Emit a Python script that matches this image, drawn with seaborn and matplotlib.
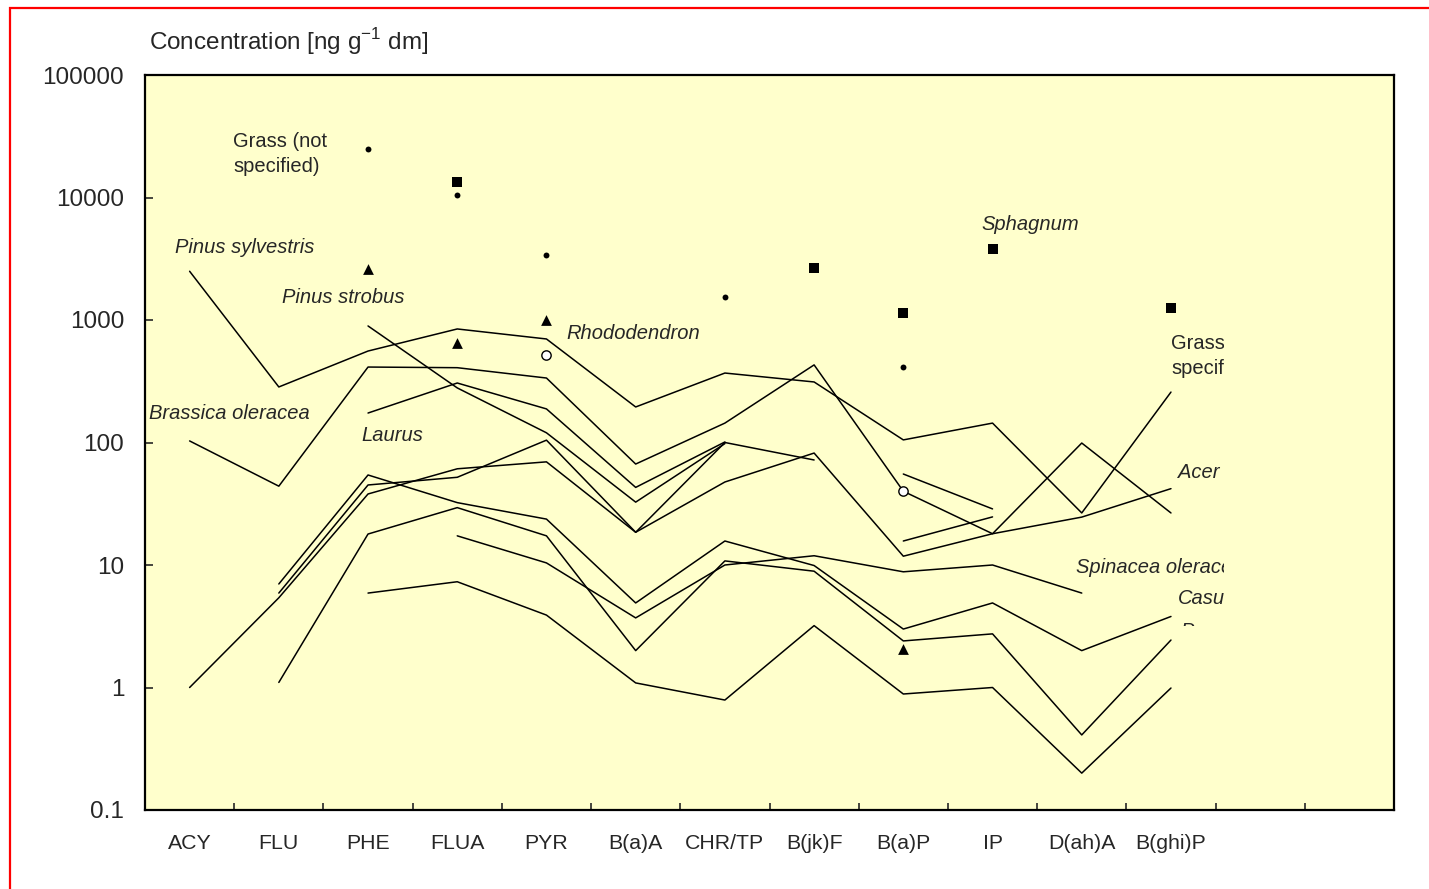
import numpy as np
import pandas as pd
import matplotlib
matplotlib.use('Agg')
import matplotlib.pyplot as plt
import seaborn as sns
from matplotlib.patches import Rectangle
from matplotlib.ticker import NullLocator
from matplotlib.transforms import Bbox, TransformedBbox

sns.set_style('white')
plt.rcParams['font.family'] = ['Liberation Sans', 'DejaVu Sans']
plt.rcParams['mathtext.fontset'] = 'custom'
plt.rcParams['mathtext.rm'] = 'Liberation Sans'

nan = np.nan

# compounds on the x axis (two empty slots follow on the right)
compounds = ['ACY', 'FLU', 'PHE', 'FLUA', 'PYR', 'B(a)A', 'CHR/TP',
             'B(jk)F', 'B(a)P', 'IP', 'D(ah)A', 'B(ghi)P']
n_slots = 14

# concentration profiles [ng g-1 dm]
pinus_sylvestris = [2500, 284, 558, 845, 700, 195, 369, 312, 105, 144, 26.6, 258]
brassica = [103, 44, 413, 408, 336, 66.7, 144, 430, 40, 18, 24.6, 42]
pinus_strobus = [nan, nan, 894, 279, 120, 32.6, 98, nan, nan, nan, nan, nan]
laurus = [nan, nan, 174, 306, 188, 43, 101, nan, nan, nan, nan, nan]
profile_5 = [nan, 5.9, 45, 52, 104.5, 18.5, 47.6, 82, 11.8, 18, 99, 26.6]
profile_6 = [1.0, 5.4, 38, 61, 69.5, 18.5, 100, 72, nan, nan, nan, nan]
casuarina = [nan, 7.0, 54.3, 32.3, 23.7, 4.9, 15.7, 9.9, 3.0, 4.9, 2.0, 3.8]
profile_8 = [nan, 1.1, 17.9, 29.4, 17.3, 2.0, 10.8, 8.9, 2.4, 2.74, 0.41, 2.44]
profile_9 = [nan, nan, 5.9, 7.3, 3.9, 1.09, 0.79, 3.2, 0.885, 1.0, 0.2, 0.99]
spinacea = [nan, nan, nan, 17.3, 10.4, 3.7, 10.0, 11.9, 8.8, 10.0, 5.9, nan]
profile_11 = [nan] * 8 + [55.3, 28.7, nan, nan]
profile_12 = [nan] * 8 + [15.7, 24.7, nan, nan]

profiles = {'Pinus sylvestris': pinus_sylvestris, 'Brassica oleracea': brassica,
            'Pinus strobus': pinus_strobus, 'Laurus': laurus, 'p5': profile_5,
            'p6': profile_6, 'Casuarina': casuarina, 'p8': profile_8,
            'p9': profile_9, 'Spinacea oleracea': spinacea,
            'p11': profile_11, 'p12': profile_12}

# single points
dot_cmp = ['PHE', 'FLUA', 'PYR', 'CHR/TP', 'B(a)P']
dot_val = [24900, 10500, 3400, 1540, 413]
square_cmp = ['FLUA', 'B(jk)F', 'B(a)P', 'IP', 'B(ghi)P']
square_val = [13400, 2660, 1140, 3800, 1250]
triangle_cmp = ['PHE', 'FLUA', 'PYR', 'B(a)P']
triangle_val = [2610, 650, 1000, 2.06]
circle_cmp = ['PYR', 'B(a)P']
circle_val = [518, 40.2]

ytick_vals = [0.1, 1, 10, 100, 1000, 10000, 100000]
ytick_labels = ['0.1', '1', '10', '100', '1000', '10000', '100000']

pos = {c: i for i, c in enumerate(compounds)}

rows = []
for name, vals in profiles.items():
    for c, v in zip(compounds, vals):
        rows.append({'series': name, 'pos': pos[c], 'conc': v})
df = pd.DataFrame(rows).dropna()

fig = plt.figure(figsize=(14.29, 8.89), dpi=100)
ax = fig.add_axes([145 / 1429, 1 - 810 / 889, (1394 - 145) / 1429, (810 - 75) / 889])
ax.set_facecolor('#FFFFCC')
ax.set_yscale('log')

sns.lineplot(data=df, x='pos', y='conc', units='series', estimator=None,
             color='black', linewidth=1.1, sort=False, legend=False, ax=ax)

sns.scatterplot(x=[pos[c] for c in dot_cmp], y=dot_val, marker='o', s=18,
                color='black', linewidth=0, ax=ax, zorder=3)
sns.scatterplot(x=[pos[c] for c in square_cmp], y=square_val, marker='s', s=45,
                color='black', linewidth=0, ax=ax, zorder=3)
sns.scatterplot(x=[pos[c] for c in triangle_cmp], y=triangle_val, marker='^', s=60,
                color='black', linewidth=0, ax=ax, zorder=3)
sns.scatterplot(x=[pos[c] for c in circle_cmp], y=circle_val, marker='o', s=45,
                facecolor='white', edgecolor='black', linewidth=1, ax=ax, zorder=3)

ax.set_xlim(-0.5, n_slots - 0.5)
ax.set_ylim(0.1, 100000)
ax.set_xlabel('')
ax.set_ylabel('')

ax.set_xticks(np.arange(0.5, n_slots - 1, 1))
ax.set_xticklabels([])
ax.set_xticks(np.arange(len(compounds)), labels=compounds, minor=True)
ax.tick_params(axis='x', which='major', direction='in', length=5, width=1.2, bottom=True)
ax.tick_params(axis='x', which='minor', length=0, pad=17, labelsize=15.3)

ax.set_yticks(ytick_vals, labels=ytick_labels)
ax.yaxis.set_minor_locator(NullLocator())
ax.tick_params(axis='y', which='major', direction='in', length=6, width=1.2,
               left=True, pad=15, labelsize=17.5)

for sp in ax.spines.values():
    sp.set_visible(True)
    sp.set_color('black')
    sp.set_linewidth(1.6)

# labels: text, x, y, italic, clipped at right
labels = [
    ('Grass (not\nspecified)', 0.49, 22800, False, False),
    ('Pinus sylvestris', -0.16, 3900, True, False),
    ('Pinus strobus', 1.04, 1530, True, False),
    ('Rhododendron', 4.22, 770, True, False),
    ('Brassica oleracea', -0.455, 172, True, False),
    ('Laurus', 1.92, 114, True, False),
    ('Sphagnum', 8.88, 6000, True, False),
    ('Grass (species\nspecified)', 11.0, 505, False, True),
    ('Acer', 11.08, 57, True, True),
    ('Spinacea oleracea', 9.93, 9.6, True, True),
    ('Casuarina', 11.08, 5.35, True, True),
    ('Populus', 11.1, 2.84, True, True),
]
clip_box = TransformedBbox(Bbox([[-0.5, 3.18], [11.6, 1e6]]), ax.transData)
for txt, x, y, ital, clip in labels:
    t = ax.text(x, y, txt, fontsize=14.5, style='italic' if ital else 'normal',
                ha='left', va='center', linespacing=1.4, clip_on=clip)
    if clip:
        t.set_clip_box(clip_box)

fig.text(149 / 1429, 1 - 42 / 889, r'Concentration [ng g$^{-1}$ dm]',
         fontsize=17.5, ha='left', va='center')

fig.add_artist(Rectangle((10 / 1429, -0.1), 2, 1.1 - 8 / 889, transform=fig.transFigure,
                         fill=False, edgecolor='red', linewidth=1.6))

fig.savefig('out.png', dpi=100)
